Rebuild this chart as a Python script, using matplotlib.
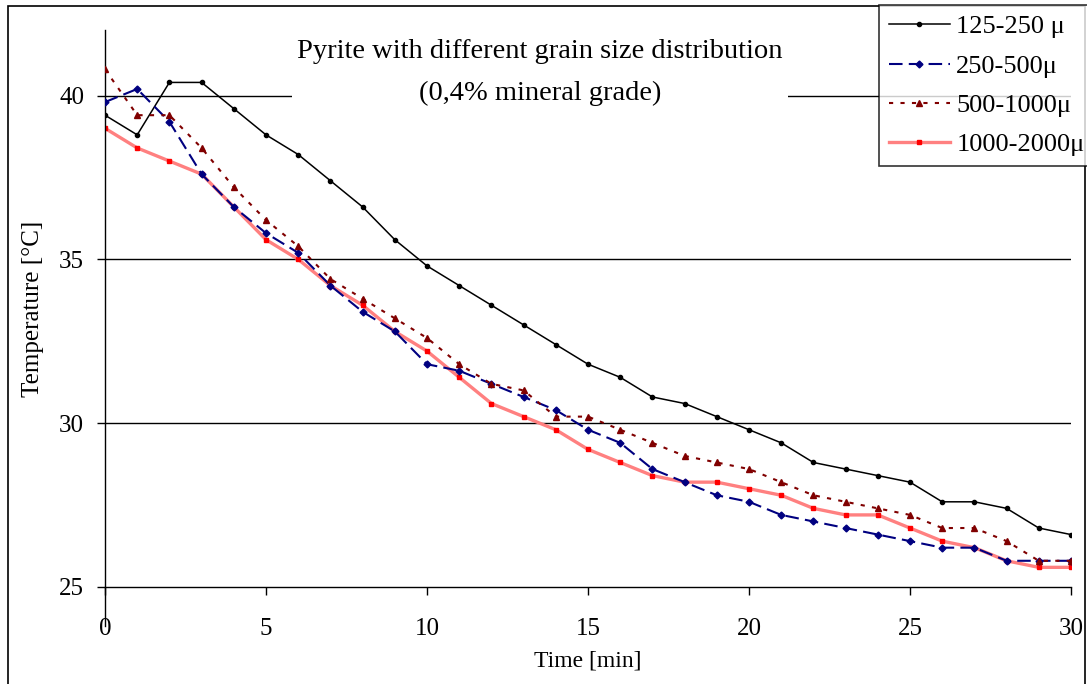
import matplotlib.pyplot as plt
from matplotlib.patches import Rectangle

plt.rcParams['font.family'] = ['Liberation Serif', 'DejaVu Serif']

# time axis, minutes
time_min = list(range(31))

# temperatures in deg C
t_125_250 = [39.4, 38.8, 40.4, 40.4, 39.6, 38.8, 38.2, 37.4, 36.6, 35.6,
             34.8, 34.2, 33.6, 33.0, 32.4, 31.8, 31.4, 30.8, 30.6, 30.2,
             29.8, 29.4, 28.8, 28.6, 28.4, 28.2, 27.6, 27.6, 27.4, 26.8, 26.6]
t_250_500 = [39.8, 40.2, 39.2, 37.6, 36.6, 35.8, 35.2, 34.2, 33.4, 32.8,
             31.8, 31.6, 31.2, 30.8, 30.4, 29.8, 29.4, 28.6, 28.2, 27.8,
             27.6, 27.2, 27.0, 26.8, 26.6, 26.4, 26.2, 26.2, 25.8, 25.8, 25.8]
t_500_1000 = [40.8, 39.4, 39.4, 38.4, 37.2, 36.2, 35.4, 34.4, 33.8, 33.2,
              32.6, 31.8, 31.2, 31.0, 30.2, 30.2, 29.8, 29.4, 29.0, 28.8,
              28.6, 28.2, 27.8, 27.6, 27.4, 27.2, 26.8, 26.8, 26.4, 25.8, 25.8]
t_1000_2000 = [39.0, 38.4, 38.0, 37.6, 36.6, 35.6, 35.0, 34.2, 33.6, 32.8,
               32.2, 31.4, 30.6, 30.2, 29.8, 29.2, 28.8, 28.4, 28.2, 28.2,
               28.0, 27.8, 27.4, 27.2, 27.2, 26.8, 26.4, 26.2, 25.8, 25.6, 25.6]

labels = ['125-250 \u03bc', '250-500\u03bc', '500-1000\u03bc', '1000-2000\u03bc']

fig = plt.figure(figsize=(10.87, 6.84), dpi=100)
ax = fig.add_axes([105 / 1087, 1 - 587 / 684, 966 / 1087, 557 / 684])

# frame around the whole chart
fig.patches.append(Rectangle((8 / 1087, -0.02), 1077 / 1087, 1.02 - 6 / 684,
                             transform=fig.transFigure, fill=False,
                             edgecolor='black', lw=1.2, zorder=0))

for y in [30, 35, 40]:
    ax.axhline(y, color='black', lw=1, zorder=1)

ax.plot(time_min, t_125_250, color='black', lw=1.1, marker='o', ms=3,
        label=labels[0], zorder=3)
ax.plot(time_min, t_250_500, color='#000080', lw=1.5, ls=(0, (6.5, 3)),
        marker='D', ms=3.5, label=labels[1], zorder=4)
ax.plot(time_min, t_500_1000, color='#800000', lw=1.5, ls=(0, (2, 3.5)),
        marker='^', ms=5, label=labels[2], zorder=5)
ax.plot(time_min, t_1000_2000, color='#FF8080', lw=2.4, marker='s', ms=3,
        mfc='red', mec='red', label=labels[3], zorder=2)

ax.set_xlim(0, 30)
ax.set_ylim(25, 42)
ax.set_xticks(range(0, 31, 5))
ax.set_yticks([25, 30, 35, 40])
ax.tick_params(labelsize=18, direction='out', length=6, width=1,
               color='black')
ax.tick_params(axis='x', pad=16)
ax.tick_params(axis='y', pad=9)
for side in ['top', 'right']:
    ax.spines[side].set_visible(False)
ax.spines['left'].set_linewidth(1)
ax.spines['bottom'].set_linewidth(1)
ax.spines['left'].set_bounds(23.8, 42)

ax.set_xlabel('Time [min]', fontsize=17, labelpad=8)
ax.set_ylabel('Temperature [\u00b0C]', fontsize=18, labelpad=11)

ax.text(0.4503, 0.923, 'Pyrite with different grain size distribution\n(0,4% mineral grade)',
        transform=ax.transAxes, ha='center', va='center', fontsize=20.5,
        linespacing=1.88, zorder=6,
        bbox=dict(facecolor='white', edgecolor='none', pad=4))

leg = fig.legend(loc='upper left', bbox_to_anchor=(879 / 1087, 1 - 5 / 684),
                 fontsize=19, frameon=True, fancybox=False, edgecolor='black',
                 borderaxespad=0, handlelength=2.3, labelspacing=0.6,
                 borderpad=0.38, handletextpad=0.25)
leg.get_frame().set_linewidth(1.2)

fig.savefig('out.png', dpi=100)
